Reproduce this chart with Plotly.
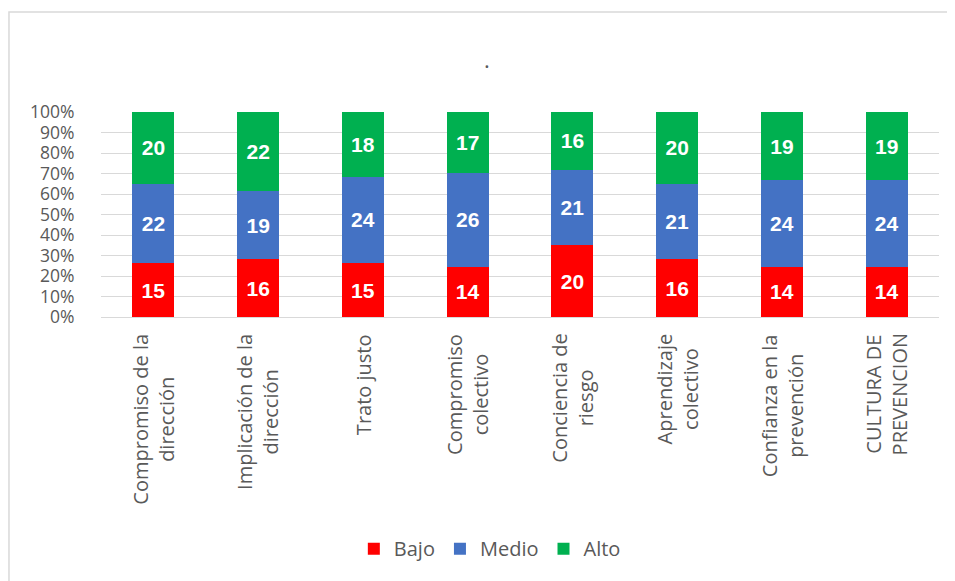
import plotly.graph_objects as go

categories = ["Compromiso de la dirección", "Implicación de la dirección", "Trato justo",
              "Compromiso colectivo", "Conciencia de riesgo", "Aprendizaje colectivo",
              "Confianza en la prevención", "CULTURA DE PREVENCION"]
tick_labels = ["Compromiso de la<br>dirección", "Implicación de la<br>dirección", "Trato justo",
               "Compromiso<br>colectivo", "Conciencia de<br>riesgo", "Aprendizaje<br>colectivo",
               "Confianza en la<br>prevención", "CULTURA DE<br>PREVENCION"]
bajo = [15, 16, 15, 14, 20, 16, 14, 14]
medio = [22, 19, 24, 26, 21, 21, 24, 24]
alto = [20, 22, 18, 17, 16, 20, 19, 19]

series = [("Bajo", bajo, "#FF0000"), ("Medio", medio, "#4472C4"), ("Alto", alto, "#00B050")]

fig = go.Figure()
for name, vals, color in series:
    fig.add_trace(go.Bar(
        x=categories, y=vals, name=name, marker_color=color, marker_line_width=0,
        text=vals, texttemplate="%{text}", textposition="inside",
        insidetextanchor="middle", textangle=0,
        textfont=dict(family="Liberation Sans", size=21, color="white", weight="bold"),
    ))

gray = "#595959"
fig.update_layout(
    width=947, height=573,
    barmode="stack", barnorm="percent", bargap=0.6,
    plot_bgcolor="white", paper_bgcolor="white",
    margin=dict(l=93, r=16, t=104, b=264),
    showlegend=True,
    legend=dict(orientation="h", x=0.464, xanchor="center", y=-1.13, yanchor="middle",
                font=dict(family="Open Sans", size=20, color=gray), itemwidth=30,
                traceorder="normal"),
    font=dict(family="Open Sans", color=gray),
)
fig.update_yaxes(range=[0, 100], dtick=10, ticksuffix="%", showgrid=True,
                 gridcolor="#D9D9D9", gridwidth=1, zeroline=False,
                 ticks="outside", ticklen=22, tickcolor="rgba(0,0,0,0)",
                 tickfont=dict(family="Open Sans", size=17.5, color=gray))
fig.update_xaxes(showticklabels=False, showline=True, linecolor="#D9D9D9", linewidth=1,
                 showgrid=False)

for cat, lab in zip(categories, tick_labels):
    fig.add_annotation(x=cat, y=-0.072, xref="x", yref="paper", text=lab,
                       textangle=-90, align="center", xanchor="center", yanchor="top",
                       showarrow=False, font=dict(family="Open Sans", size=20, color=gray))

fig.add_annotation(x=0.4606, y=1.343, xref="paper", yref="paper", text=".",
                   showarrow=False, font=dict(family="Open Sans", size=22, color=gray))

fig.add_shape(type="rect", xref="paper", yref="paper", x0=-0.1098, x1=1.05, y0=-1.5, y1=1.488,
              line=dict(color="#D9D9D9", width=1.5), fillcolor="rgba(0,0,0,0)", layer="above")

fig.write_html("out.html")
